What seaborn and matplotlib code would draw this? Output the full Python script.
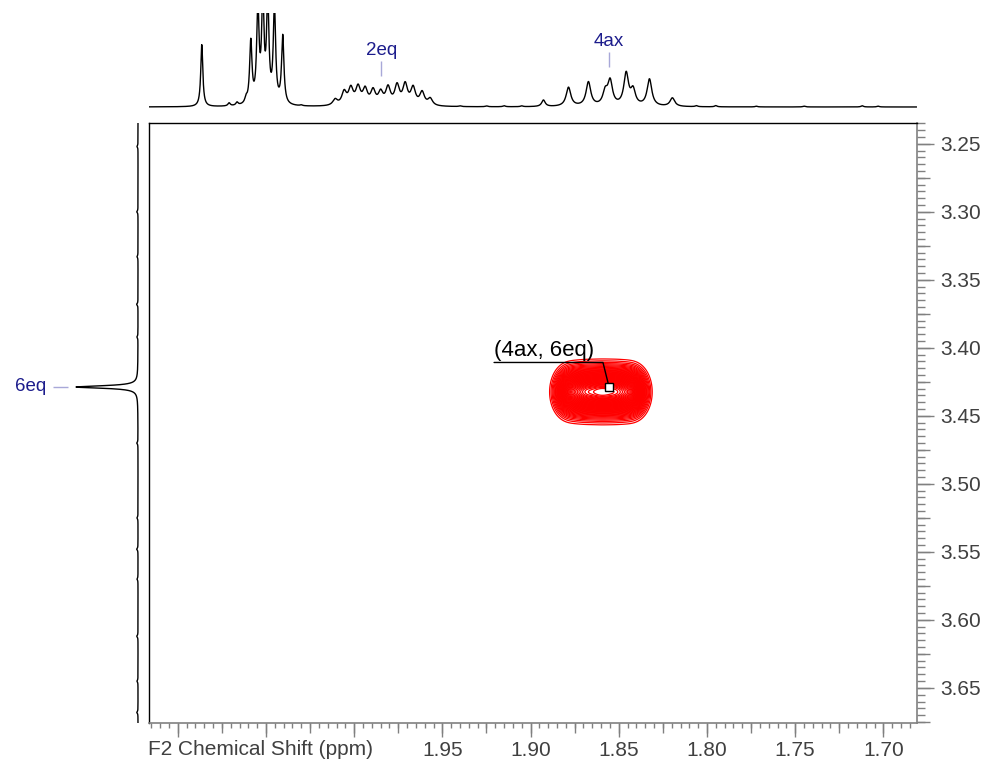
import numpy as np
import pandas as pd
import matplotlib
matplotlib.use("Agg")
import matplotlib.pyplot as plt
import matplotlib.ticker as mticker
import seaborn as sns

# ---------------- data ----------------
# F2 (horizontal, top trace) 1D peaks: position (ppm), height (trace units), half-width (ppm)
f2_peak_ppm = [2.0864, 2.0709, 2.0664, 2.0613,
               2.0586, 2.0546, 2.0518, 2.0490, 2.0452, 2.0405,
               2.0108, 2.0057, 2.0019, 1.9978, 1.9938, 1.9893, 1.9850,
               1.9808, 1.9757, 1.9711, 1.9666, 1.9615, 1.9569,
               1.8927, 1.8785, 1.8672, 1.8577, 1.8549, 1.8458, 1.8419, 1.8326, 1.8196,
               2.0300, 1.9400, 1.9250, 1.9150, 1.9050, 1.8060, 1.7950, 1.7720, 1.7450, 1.7120, 1.7030]
f2_peak_height = [62, 3, 3, 5,
                  62, 95, 100, 100, 95, 68,
                  6, 13, 16, 17, 15, 14, 12,
                  17, 19, 20, 17, 13, 7,
                  6.5, 19, 24, 13, 24, 32, 15, 27, 8.5,
                  0.8, 0.7, 0.8, 1.0, 0.8, 1.0, 1.2, 0.7, 0.8, 1.2, 0.8]
f2_peak_width = [0.0007, 0.0008, 0.0008, 0.0008,
                 0.0008, 0.0008, 0.0008, 0.0008, 0.0008, 0.0008,
                 0.0016, 0.0016, 0.0016, 0.0016, 0.0016, 0.0016, 0.0016,
                 0.0016, 0.0016, 0.0016, 0.0016, 0.0016, 0.0016,
                 0.0012, 0.0016, 0.0016, 0.0016, 0.0016, 0.0016, 0.0016, 0.0016, 0.0016,
                 0.0008, 0.0008, 0.0008, 0.0008, 0.0008, 0.0008, 0.0008, 0.0008, 0.0008, 0.0008, 0.0008]

# F1 (vertical, left trace) 1D peaks
f1_peak_ppm = [3.4288, 3.252, 3.300, 3.333, 3.368, 3.392, 3.470, 3.525, 3.548, 3.570, 3.612, 3.645, 3.668]
f1_peak_height = [62, 1.0, 1.2, 1.0, 1.3, 1.0, 1.2, 1.0, 1.3, 1.0, 1.2, 1.0, 1.2]
f1_peak_width = [0.0011] + [0.0008] * 12

# cross peak (4ax, 6eq): F2 components, relative amplitudes, F1 components
cross_f2_ppm = [1.8782, 1.8690, 1.8600, 1.8512, 1.8422]
cross_f2_amp = [0.80, 0.95, 1.00, 0.95, 0.85]
cross_f1_ppm = [3.4295, 3.4355]
cross_f1_amp = [1.00, 0.95]
cross_f2_sigma = 0.0051
cross_f1_sigma = 0.0096

# assignments
f2_label_text = ["2eq", "4ax"]
f2_label_ppm = [1.9847, 1.8555]
f1_label_text = ["6eq"]
f1_label_ppm = [3.4288]
cross_label = "(4ax, 6eq)"

# axes
x_limits = (2.1166, 1.6811)
y_limits = (3.6758, 3.2344)
x_tick_values = [2.10, 2.05, 2.00, 1.95, 1.90, 1.85, 1.80, 1.75, 1.70]
x_tick_labels = ["", "", "", "1.95", "1.90", "1.85", "1.80", "1.75", "1.70"]
y_tick_values = [3.25, 3.30, 3.35, 3.40, 3.45, 3.50, 3.55, 3.60, 3.65]
y_tick_labels = ["3.25", "3.30", "3.35", "3.40", "3.45", "3.50", "3.55", "3.60", "3.65"]
x_axis_title = "F2 Chemical Shift (ppm)"

# ---------------- build traces ----------------
def lorentz_sum(grid, pos, h, w):
    out = np.zeros_like(grid)
    for p, hh, ww in zip(pos, h, w):
        out += hh / (1.0 + ((grid - p) / ww) ** 2)
    return out

f2_grid = np.linspace(x_limits[0], x_limits[1], 6000)
f2_trace = lorentz_sum(f2_grid, f2_peak_ppm, f2_peak_height, f2_peak_width)
top_df = pd.DataFrame({"ppm": f2_grid, "intensity": f2_trace})

f1_grid = np.linspace(y_limits[1], y_limits[0], 5000)
f1_trace = lorentz_sum(f1_grid, f1_peak_ppm, f1_peak_height, f1_peak_width)
left_df = pd.DataFrame({"ppm": f1_grid, "intensity": f1_trace})

cx = np.linspace(1.80, 1.92, 500)
cy = np.linspace(3.38, 3.49, 400)
CX, CY = np.meshgrid(cx, cy)
ZX = np.zeros_like(CX)
for p, a in zip(cross_f2_ppm, cross_f2_amp):
    ZX += a * np.exp(-0.5 * ((CX - p) / cross_f2_sigma) ** 2)
ZY = np.zeros_like(CY)
for p, a in zip(cross_f1_ppm, cross_f1_amp):
    ZY += a * np.exp(-0.5 * ((CY - p) / cross_f1_sigma) ** 2)
Z = ZX * ZY

# ---------------- figure ----------------
sns.set_style("white")
plt.rcParams["font.family"] = ["Liberation Sans", "DejaVu Sans"]

W, H = 987, 762
fig = plt.figure(figsize=(W / 100, H / 100), dpi=100)

def rect(l, t, r, b):
    return [l / W, 1 - b / H, (r - l) / W, (b - t) / H]

ax = fig.add_axes(rect(148.5, 122.5, 916.7, 723))
axt = fig.add_axes(rect(148.5, 13, 916.7, 112))
axl = fig.add_axes(rect(40, 122.5, 146, 723))

navy = "#1c1c8c"
lavender = "#a8a8d8"
tick_grey = "#808080"
label_grey = "#404040"

# top trace
sns.lineplot(data=top_df, x="ppm", y="intensity", ax=axt, color="black",
             linewidth=1.0, sort=False, estimator=None)
axt.set_xlim(*x_limits)
axt.set_ylim(-5, 94)
axt.axis("off")
for txt, p in zip(f2_label_text, f2_label_ppm):
    yv = float(np.interp(p, f2_grid[::-1], f2_trace[::-1]))
    axt.vlines(p, yv + 13, yv + 28, color=lavender, linewidth=1.0)
    axt.text(p, yv + 34, txt, color=navy, fontsize=13.5, ha="center", va="baseline")

# left trace
sns.lineplot(data=left_df, x="intensity", y="ppm", ax=axl, color="black",
             linewidth=1.0, sort=False, estimator=None, orient="y")
axl.set_ylim(*y_limits)
axl.set_xlim(98, -8)
axl.axis("off")
for txt, p in zip(f1_label_text, f1_label_ppm):
    xv = float(np.interp(p, f1_grid, f1_trace))
    axl.hlines(p, xv + 8, xv + 23, color=lavender, linewidth=1.0)
    axl.text(xv + 30, p, txt, color=navy, fontsize=13.5, ha="right", va="center")

# main 2D panel
levels = np.linspace(0.055, 0.97, 44) * Z.max()
ax.contour(CX, CY, Z, levels=levels, colors="red", linewidths=0.9)
ax.set_xlim(*x_limits)
ax.set_ylim(*y_limits)
ax.grid(False)

ax.xaxis.set_major_locator(mticker.FixedLocator(x_tick_values))
ax.xaxis.set_major_formatter(mticker.FixedFormatter(x_tick_labels))
ax.xaxis.set_minor_locator(mticker.MultipleLocator(0.005))
ax.yaxis.tick_right()
ax.yaxis.set_major_locator(mticker.FixedLocator(y_tick_values))
ax.yaxis.set_major_formatter(mticker.FixedFormatter(y_tick_labels))
ax.yaxis.set_minor_locator(mticker.MultipleLocator(0.005))
ax.tick_params(axis="x", which="major", direction="out", length=10, width=1,
               color=tick_grey, labelcolor=label_grey, labelsize=15, pad=3,
               bottom=True, top=False, labelbottom=True)
ax.tick_params(axis="x", which="minor", direction="out", length=3.5, width=1,
               color=tick_grey, bottom=True, top=False)
ax.tick_params(axis="y", which="major", direction="out", length=12, width=1,
               color=tick_grey, labelcolor=label_grey, labelsize=15, pad=5,
               left=False, right=True, labelleft=False, labelright=True)
ax.tick_params(axis="y", which="minor", direction="out", length=6, width=1,
               color=tick_grey, left=False, right=True)

secx = ax.secondary_xaxis("bottom")
secx.xaxis.set_major_locator(mticker.MultipleLocator(0.025))
secx.tick_params(axis="x", which="major", length=7, width=1, color=tick_grey,
                 bottom=True, labelbottom=False)
secx.spines["bottom"].set_visible(False)
secy = ax.secondary_yaxis("right")
secy.yaxis.set_major_locator(mticker.MultipleLocator(0.025))
secy.tick_params(axis="y", which="major", length=9, width=1, color=tick_grey,
                 right=True, labelright=False)
secy.spines["right"].set_visible(False)

for side in ["top", "left"]:
    ax.spines[side].set_color("black")
    ax.spines[side].set_linewidth(1.0)
for side in ["bottom", "right"]:
    ax.spines[side].set_color(tick_grey)
    ax.spines[side].set_linewidth(1.2)

ax.annotate(x_axis_title, xy=(0, 0), xycoords="axes fraction",
            xytext=(0, -17), textcoords="offset pixels",
            ha="left", va="top", fontsize=15, color=label_grey)

# cross-peak label
cpx, cpy = f2_label_ppm[1], f1_label_ppm[0]
ax.plot([cpx], [cpy], marker="s", markersize=6, markerfacecolor="white",
        markeredgecolor="black", markeredgewidth=1.0, linestyle="none", zorder=5)
ax.annotate("", xy=(cpx, cpy), xycoords="data", xytext=(-115, 24.5),
            textcoords="offset pixels",
            arrowprops=dict(arrowstyle="-", color="black", lw=1.0, shrinkA=0, shrinkB=3,
                            connectionstyle="angle,angleA=0,angleB=104,rad=0"))
ax.annotate(cross_label, xy=(cpx, cpy), xycoords="data", xytext=(-115, 31),
            textcoords="offset pixels", ha="left", va="baseline",
            fontsize=16, color="black")

fig.savefig("out.png", dpi=100)
